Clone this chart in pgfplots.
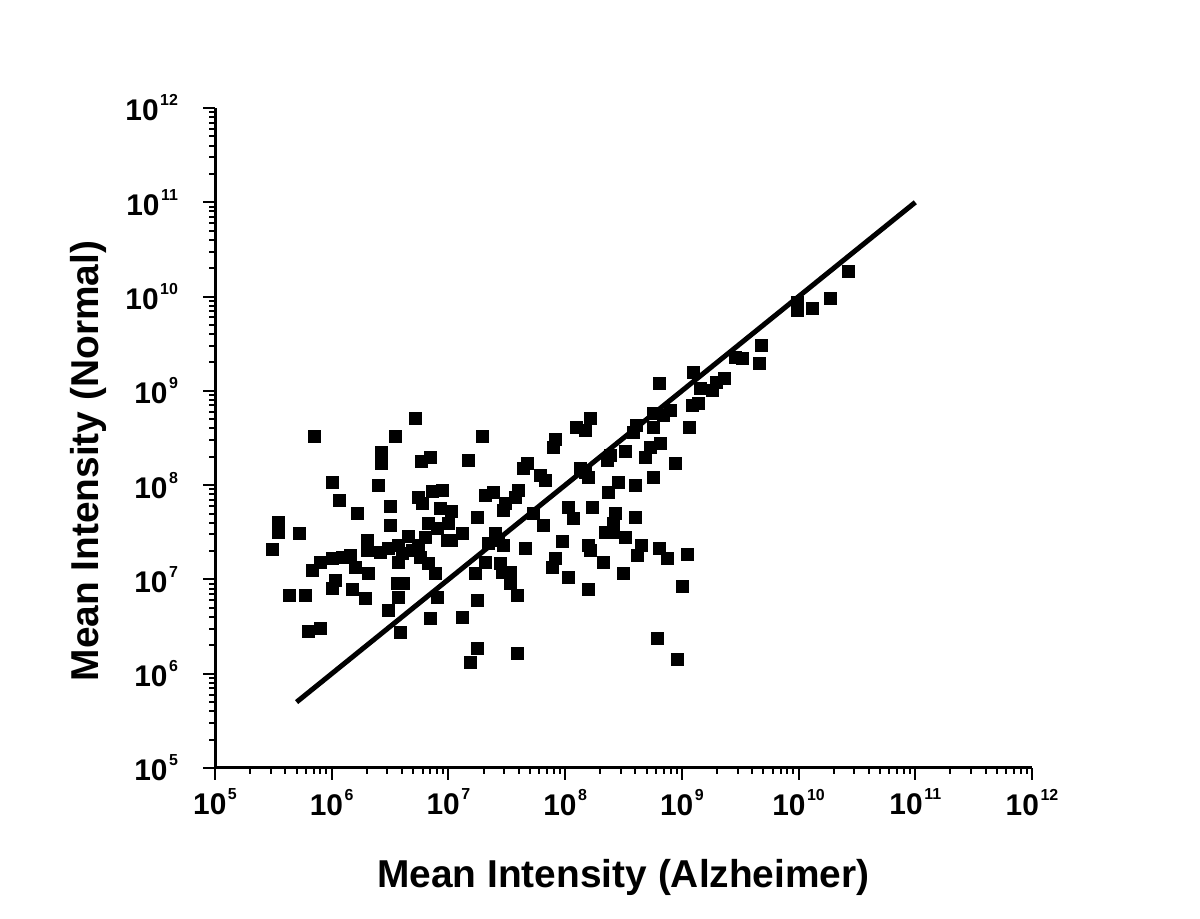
\documentclass[border=0pt]{standalone}
\usepackage{fontspec}
\setmainfont{Liberation Sans}
\usepackage{pgfplots}
\pgfplotsset{compat=1.18}

% tick label: bold "10" with a small raised exponent
\newcommand{\tl}[1]{\textbf{10}\hspace{0.8bp}\raisebox{7.5bp}{\fontsize{8}{8}\selectfont\textbf{#1}}}

\begin{document}
\begin{tikzpicture}
\useasboundingbox (-107.5bp,-75.5bp) rectangle (492.5bp,384bp);
\begin{axis}[
  scale only axis, width=408.5bp, height=330bp,
  xmode=log, ymode=log,
  xmin=1e5, xmax=1e12, ymin=1e5, ymax=1e12,
  axis lines=left, axis line style={-, line width=1.5bp},
  tick align=outside, major tick length=6bp, minor tick length=3bp,
  every tick/.style={black, line width=1bp},
  xtick={1e5,1e6,1e7,1e8,1e9,1e10,1e11,1e12},
  ytick={1e5,1e6,1e7,1e8,1e9,1e10,1e11,1e12},
  xticklabels={\tl{5},\tl{6},\tl{7},\tl{8},\tl{9},\tl{10},\tl{11},\tl{12}},
  yticklabels={\tl{5},\tl{6},\tl{7},\tl{8},\tl{9},\tl{10},\tl{11},\tl{12}},
  tick label style={font=\fontsize{15}{15}\selectfont},
  xticklabel style={yshift=-1bp},
  yticklabel style={xshift=-9bp},
  xlabel={Mean Intensity (Alzheimer)},
  ylabel={Mean Intensity (Normal)},
  every axis x label/.style={at={(axis description cs:0.5,0)}, yshift=-54.5bp, anchor=center,
    font=\bfseries\fontsize{19.5}{20}\selectfont},
  every axis y label/.style={at={(axis description cs:0,0.465)}, xshift=-63.5bp, rotate=90, anchor=center,
    font=\bfseries\fontsize{19.5}{20}\selectfont},
]
\addplot[black, line width=2.5bp, no marks] coordinates {(5e5,5e5) (1e11,1e11)};
\addplot[only marks, mark=square*, mark size=3bp, black] table {
x y
5.17e6 5.15e8
7.05e5 3.32e8
3.49e6 3.32e8
2.64e6 2.24e8
2.64e6 1.71e8
5.82e6 1.80e8
6.95e6 1.99e8
1.01e6 1.08e8
2.49e6 1.00e8
1.16e6 6.95e7
1.65e6 5.06e7
3.16e6 6.00e7
3.16e6 3.78e7
5.49e6 7.48e7
7.23e6 8.65e7
8.81e6 8.87e7
5.94e6 6.46e7
8.47e6 5.71e7
1.05e7 5.31e7
3.47e5 4.06e7
3.47e5 3.18e7
5.25e5 3.10e7
2.01e6 2.62e7
4.51e6 2.89e7
6.68e6 3.96e7
7.98e6 3.51e7
9.93e6 3.96e7
3.08e5 2.10e7
6.78e5 1.26e7
7.94e5 1.53e7
1.01e6 1.69e7
1.23e6 1.73e7
1.44e6 1.81e7
1.58e6 1.35e7
2.01e6 2.05e7
2.05e6 1.17e7
2.59e6 1.95e7
3.04e6 2.15e7
3.70e6 2.32e7
4.00e6 1.91e7
3.70e6 1.53e7
4.88e6 2.05e7
5.49e6 2.32e7
5.71e6 1.73e7
6.30e6 2.82e7
6.68e6 1.49e7
7.68e6 1.17e7
9.73e6 2.62e7
1.07e6 9.86e6
1.01e6 8.11e6
1.49e6 7.91e6
1.93e6 6.35e6
4.31e5 6.84e6
5.90e5 6.84e6
3.63e6 9.16e6
4.08e6 9.16e6
3.70e6 6.50e6
3.04e6 4.73e6
6.95e6 3.90e6
7.98e6 6.50e6
6.27e5 2.84e6
7.94e5 3.05e6
3.85e6 2.77e6
1.63e8 5.15e8
1.26e8 4.13e8
1.48e8 3.84e8
1.94e7 3.32e8
8.19e7 3.08e8
7.87e7 2.54e8
1.47e7 1.85e8
4.05e8 4.34e8
3.82e8 3.66e8
3.26e8 2.30e8
2.43e8 2.08e8
2.29e8 1.85e8
4.72e7 1.71e8
4.36e7 1.52e8
6.10e7 1.28e8
6.73e7 1.13e8
1.34e8 1.52e8
1.48e8 1.38e8
1.57e8 1.22e8
2.84e8 1.08e8
3.97e8 1.00e8
2.33e8 8.45e7
2.06e7 7.85e7
2.41e7 8.45e7
3.95e7 8.87e7
3.72e7 7.48e7
3.05e7 6.46e7
2.94e7 5.45e7
1.76e7 4.59e7
5.31e7 5.06e7
1.06e8 5.86e7
1.17e8 4.48e7
1.70e8 5.86e7
2.68e8 5.06e7
2.57e8 3.96e7
3.97e8 4.59e7
6.47e7 3.78e7
2.51e7 3.10e7
9.40e7 2.55e7
3.26e8 2.82e7
1.07e7 2.62e7
1.31e7 3.10e7
2.18e7 2.43e7
2.66e7 2.62e7
2.94e7 2.32e7
4.53e7 2.15e7
1.57e8 2.32e7
1.63e8 2.05e7
2.20e8 3.18e7
2.57e8 3.18e7
4.47e8 2.32e7
4.13e8 1.81e7
2.06e7 1.53e7
2.77e7 1.49e7
2.88e7 1.20e7
3.37e7 1.20e7
8.19e7 1.69e7
7.72e7 1.35e7
1.06e8 1.06e7
2.11e8 1.53e7
3.13e8 1.17e7
1.69e7 1.17e7
3.37e7 9.16e6
3.87e7 6.84e6
1.57e8 7.91e6
1.76e7 6.05e6
1.33e7 3.99e6
1.76e7 1.87e6
1.53e7 1.33e6
3.87e7 1.66e6
4.77e9 3.06e9
4.59e9 1.97e9
3.28e9 2.23e9
2.86e9 2.28e9
1.25e9 1.58e9
6.38e8 1.21e9
1.96e9 1.24e9
2.30e9 1.37e9
1.82e9 1.02e9
1.43e9 1.07e9
1.38e9 7.43e8
1.22e9 7.07e8
7.92e8 6.25e8
6.90e8 5.54e8
5.66e8 5.82e8
5.66e8 4.13e8
1.17e9 4.13e8
6.51e8 2.79e8
5.34e8 2.54e8
4.84e8 1.99e8
8.75e8 1.71e8
5.66e8 1.22e8
6.38e8 2.15e7
7.47e8 1.69e7
1.11e9 1.86e7
1.02e9 8.51e6
6.13e8 2.39e6
9.10e8 1.43e6
2.65e10 1.86e10
1.86e10 9.64e9
1.31e10 7.55e9
9.71e9 8.75e9
9.71e9 7.19e9
};
\end{axis}
\end{tikzpicture}
\end{document}
